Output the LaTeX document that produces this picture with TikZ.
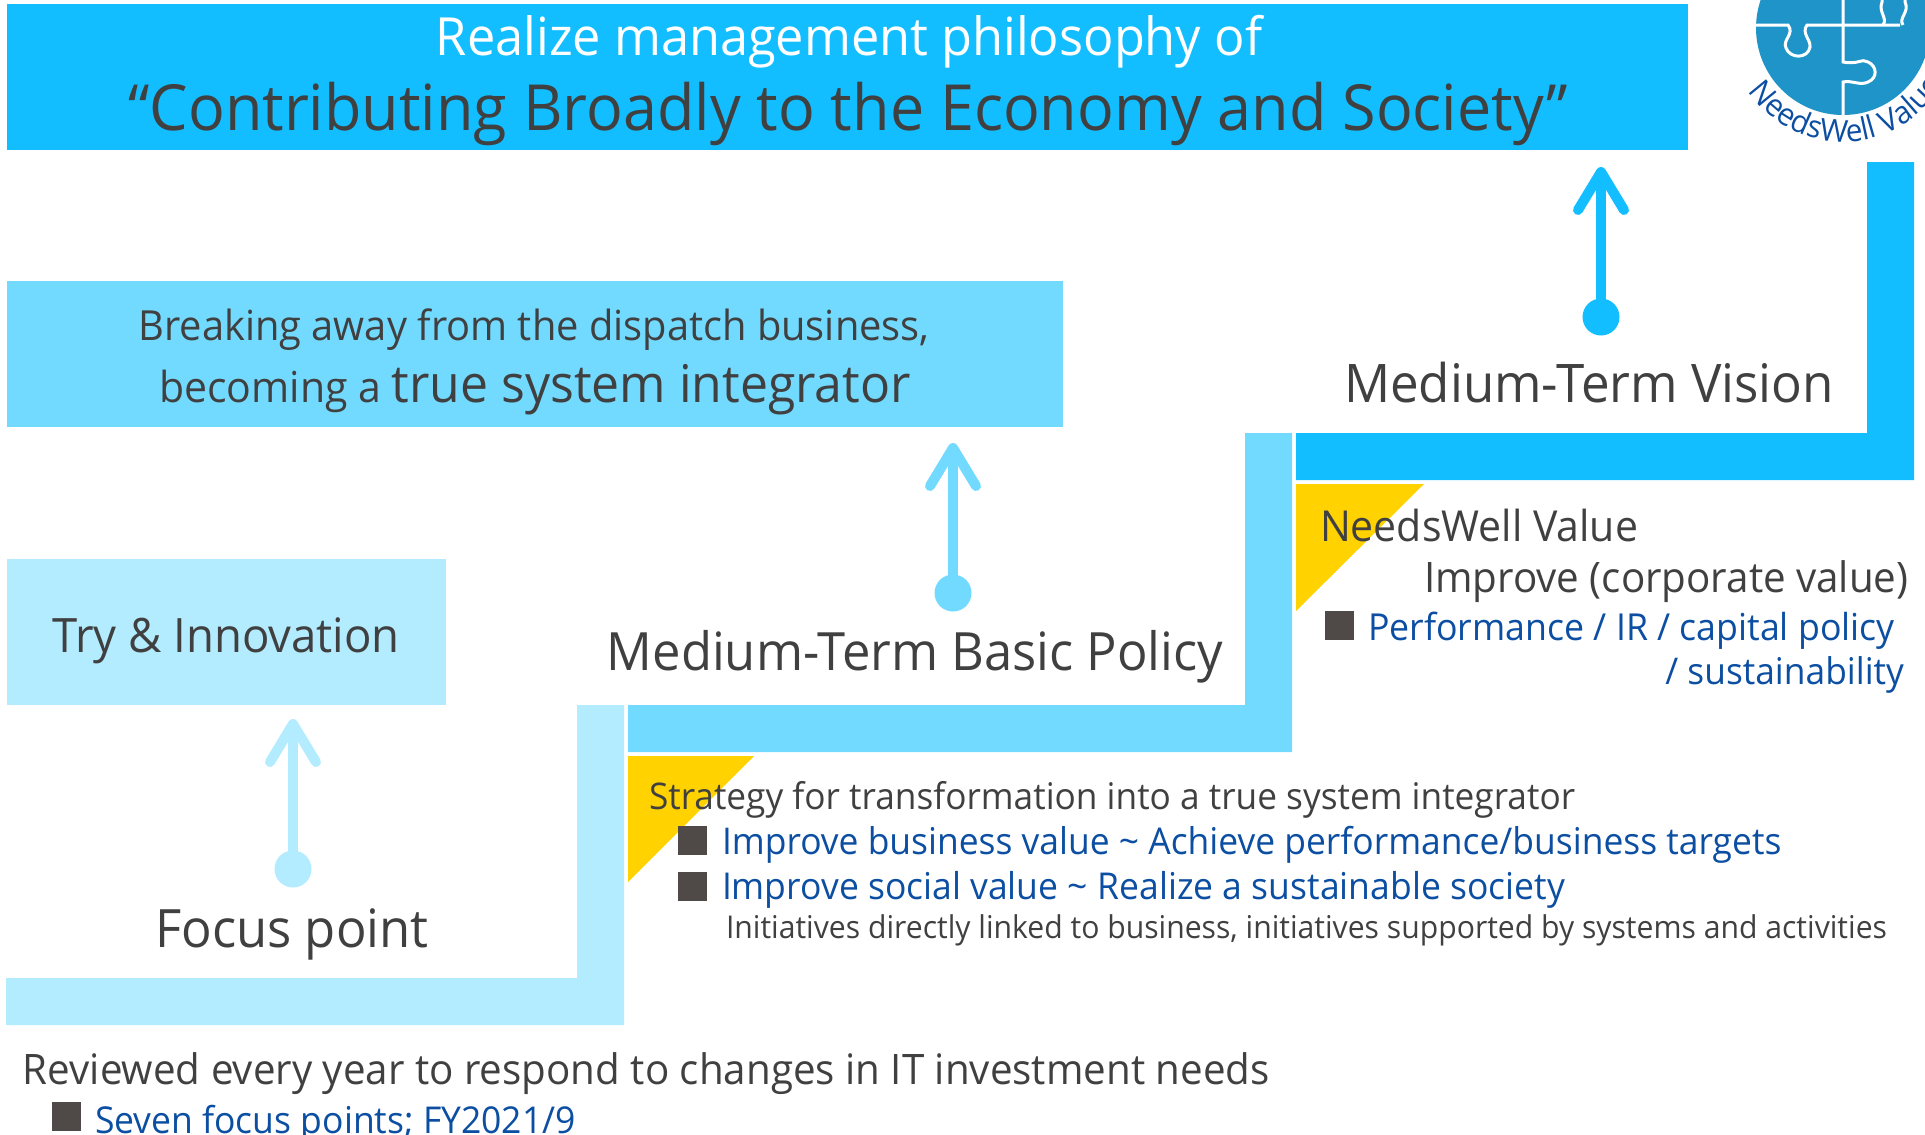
\documentclass[tikz,border=0pt]{standalone}
\usepackage{fontspec}
\setmainfont[FakeStretch=0.96]{Open Sans}
\usetikzlibrary{arrows.meta,decorations.text}
\definecolor{cdeep}{HTML}{12BEFF}
\definecolor{cmid}{HTML}{73DAFF}
\definecolor{clight}{HTML}{B3EBFF}
\definecolor{cgold}{HTML}{FFD200}
\definecolor{ctext}{HTML}{404040}
\definecolor{cblue}{HTML}{0B4EA2}
\definecolor{csq}{HTML}{4F4A48}
\definecolor{clogo}{HTML}{1E94C8}
\newcommand{\fs}[1]{\fontsize{#1}{#1}\selectfont}
\tikzset{
  txt/.style={inner sep=0pt,outer sep=0pt,text=ctext,anchor=base,font=\fs{#1}},
  txtl/.style={inner sep=0pt,outer sep=0pt,text=ctext,anchor=base west,font=\fs{#1}},
  link/.style={inner sep=0pt,outer sep=0pt,text=cblue,anchor=base west,font=\fs{#1}},
  linkr/.style={inner sep=0pt,outer sep=0pt,text=cblue,anchor=base east,font=\fs{#1}},
  dot/.style={circle,inner sep=0pt,outer sep=0pt,minimum size=37pt,fill=#1},
  uparrow/.style={draw=#1,line width=10pt,-{Straight Barb[length=38pt,width=46pt,round]}},
  sq/.style={inner sep=0pt,outer sep=0pt,minimum size=29pt,fill=csq},
  seam/.style={draw=white,line width=3pt}
}
\begin{document}
\begin{tikzpicture}[x=1pt,y=-1pt]
\useasboundingbox (0,0) rectangle (1925,1135);
% banners
\fill[cdeep] (7,4) rectangle (1688,150);
\fill[cmid] (7,281) rectangle (1063,427);
\fill[clight] (7,559) rectangle (446,705);
% steps
\fill[clight] (6,978) -- (577,978) -- (577,705) -- (624,705) -- (624,1025) -- (6,1025) -- cycle;
\fill[cmid] (628,705) -- (1245,705) -- (1245,433) -- (1292,433) -- (1292,752) -- (628,752) -- cycle;
\fill[cdeep] (1296,433) -- (1867,433) -- (1867,162) -- (1914,162) -- (1914,480) -- (1296,480) -- cycle;
% triangles
\fill[cgold] (628,756) -- (754,756) -- (628,882) -- cycle;
\fill[cgold] (1296,484) -- (1424,484) -- (1296,611) -- cycle;
% logo
\fill[clogo] (1843,28) circle[radius=87];
\begin{scope}
\clip (1843,28) circle[radius=87];
\draw[seam] (1756,25) -- (1788,25) .. controls (1795,34) and (1782,40) .. (1786,48) .. controls (1790,59) and (1808,59) .. (1810,47) .. controls (1811,40) and (1801,33) .. (1807,25) -- (1900,25);
\draw[seam] (1843,0) -- (1843,62) .. controls (1858,65) and (1862,58) .. (1868,62) .. controls (1877,66) and (1878,78) .. (1868,82) .. controls (1860,86) and (1852,80) .. (1843,82) -- (1843,118);
\draw[seam] (1883,25) .. controls (1888,18) and (1878,12) .. (1882,2) -- (1882,-5);
\draw[seam] (1905,-5) -- (1905,2) .. controls (1910,12) and (1898,18) .. (1903,25);
\end{scope}
\path[decorate,decoration={text along path,text={|\fs{31}\color{cblue}|NeedsWell Value},text align={left}}]
  (1843,28) ++(146.3:114) arc[start angle=146.3,end angle=20,radius=114];
% texts in banners
\node[txt=52.6,text=white] (t1) at (849,55) {Realize management philosophy of};
\node[txt=63.6] (t2) at (848,130) {“Contributing Broadly to the Economy and Society”};
\node[txt=41.5] (m1) at (534,340) {Breaking away from the dispatch business,};
\node[txt=42.7] (m2) at (535,402) {becoming a {\fs{52}true system integrator}};
\node[txt=47.4] (try) at (226,652) {Try \& Innovation};
% arrows
\node[dot=clight] (d1) at (293,869) {};
\coordinate (e1) at (293,719);
\draw[uparrow=clight] (d1) -- (e1);
\node[dot=cmid] (d2) at (953,593) {};
\coordinate (e2) at (953,443);
\draw[uparrow=cmid] (d2) -- (e2);
\node[dot=cdeep] (d3) at (1601,317) {};
\coordinate (e3) at (1601,167);
\draw[uparrow=cdeep] (d3) -- (e3);
% step labels
\node[txt=52.9] (focus) at (292,947) {Focus point};
\node[txt=52.8] (basic) at (915,670) {Medium-Term Basic Policy};
\node[txt=53.2] (vision) at (1589,402) {Medium-Term Vision};
% vision details
\node[txtl=42.7] (nv) at (1320,541) {NeedsWell Value};
\node[txtl=42] (imp) at (1424,592) {Improve (corporate value)};
\node[sq] (s1) at (1339.5,625) {};
\node[link=37.2] (perf) at (1368,640) {Performance / IR / capital policy};
\node[linkr=36.8] (sus) at (1904,684) {/ sustainability};
% basic details
\node[txtl=36.7] (strat) at (649,809) {Strategy for transformation into a true system integrator};
\node[sq] (s2) at (692.5,840) {};
\node[link=36.9] (biz) at (722,854) {Improve business value \textasciitilde{} Achieve performance/business targets};
\node[sq] (s3) at (692.5,886) {};
\node[link=37] (soc) at (722,899) {Improve social value \textasciitilde{} Realize a sustainable society};
\node[txtl=31.4] (init) at (726,938) {Initiatives directly linked to business, initiatives supported by systems and activities};
% focus details
\node[txtl=42] (rev) at (23,1084) {Reviewed every year to respond to changes in IT investment needs};
\node[sq] (s4) at (66.5,1116.5) {};
\node[link=37] (seven) at (95,1133) {Seven focus points; FY2021/9};
\end{tikzpicture}
\end{document}
